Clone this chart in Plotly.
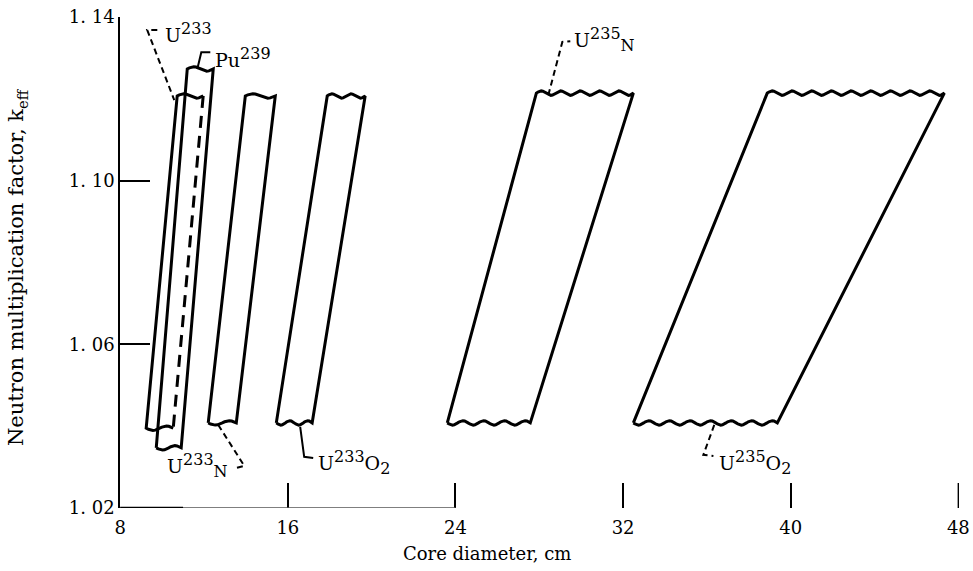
import numpy as np
import plotly.graph_objects as go

# ---------------- data ----------------
band_names = ["U233", "Pu239", "U233N", "U233O2", "U235N", "U235O2"]
k_low = [1.0395, 1.0347, 1.0408, 1.0408, 1.0408, 1.0408]
k_high = [1.1207, 1.1273, 1.1207, 1.1207, 1.1214, 1.1214]
d_low_left = [9.24, 9.72, 12.20, 15.45, 23.61, 32.49]
d_low_right = [10.53, 10.91, 13.54, 17.16, 27.57, 39.36]
d_high_left = [10.72, 11.20, 13.97, 17.88, 27.86, 38.88]
d_high_right = [11.96, 12.44, 15.40, 19.69, 32.49, 47.33]

SUP = '<sup><span style="font-size:16px">{}</span></sup>'
SUB = '<sub><span style="font-size:16px">{}</span></sub>'
label_texts = ["U" + SUP.format("233"), "Pu" + SUP.format("239"),
               "U" + SUP.format("233") + SUB.format("N"),
               "U" + SUP.format("233") + "O" + SUB.format("2"),
               "U" + SUP.format("235") + SUB.format("N"),
               "U" + SUP.format("235") + "O" + SUB.format("2")]
label_x = [10.05, 12.44, 10.15, 17.36, 29.58, 36.5]
label_y = [1.1363, 1.1300, 1.0303, 1.0310, 1.1344, 1.0312]

# leader lines (polyline vertices, data coords)
leader_x = [[9.77, 9.29, 10.58], [12.30, 11.87, 11.68], [12.68, 13.92, 13.54],
            [16.59, 16.78, 17.21], [28.43, 29.10, 29.48], [36.35, 35.83, 36.31]]
leader_y = [[1.1368, 1.1368, 1.1197], [1.1314, 1.1314, 1.1273], [1.0403, 1.0303, 1.0298],
            [1.0398, 1.0325, 1.0322], [1.1209, 1.1339, 1.1341], [1.0403, 1.0330, 1.0327]]
leader_dash = ["dash", "solid", "dash", "solid", "dash", "dash"]

x_ticks = [8, 16, 24, 32, 40, 48]
x_ticktext = ["8", "16", "24", "32", "40", "48"]
y_ticks = [1.02, 1.06, 1.10, 1.14]
y_ticktext = ["1. 02", "1. 06", "1. 10", "1. 14"]

# ---------------- style ----------------
FONT = "DejaVu Serif"
LW = 3
PX_PER_X = 838 / 40.0
PX_PER_Y = 491 / 0.12
WAVE_PERIOD_PX = 20
WAVE_AMP_PX = 2.2
XTICK_LEN_PX = 25


def wavy(x0, y0, x1, y1):
    """Break-mark style (wavy) edge between two corners."""
    length_px = abs(x1 - x0) * PX_PER_X
    n = max(1, int(round(length_px / WAVE_PERIOD_PX)))
    t = np.linspace(0, 1, 12 * n + 1)
    xs = x0 + (x1 - x0) * t
    ys = y0 + (y1 - y0) * t + (WAVE_AMP_PX / PX_PER_Y) * np.sin(2 * np.pi * n * t)
    return list(xs), list(ys)


fig = go.Figure()

for i, name in enumerate(band_names):
    bl = (d_low_left[i], k_low[i])
    br = (d_low_right[i], k_low[i])
    tl = (d_high_left[i], k_high[i])
    tr = (d_high_right[i], k_high[i])
    tx, ty = wavy(tl[0], tl[1], tr[0], tr[1])
    bx, by = wavy(br[0], br[1], bl[0], bl[1])
    if name == "U233":
        # right edge lies inside the Pu239 band -> drawn dashed
        xs = bx + tx
        ys = by + ty
        fig.add_trace(go.Scatter(x=xs, y=ys, mode="lines", line=dict(color="black", width=LW),
                                 hoverinfo="skip", showlegend=False, name=name))
        fig.add_trace(go.Scatter(x=[tr[0], br[0]], y=[tr[1], br[1]], mode="lines",
                                 line=dict(color="black", width=LW, dash="12px,8px"),
                                 hoverinfo="skip", showlegend=False))
    else:
        xs = [bl[0]] + tx + bx
        ys = [bl[1]] + ty + by
        fig.add_trace(go.Scatter(x=xs, y=ys, mode="lines", line=dict(color="black", width=LW),
                                 hoverinfo="skip", showlegend=False, name=name))

for i in range(len(band_names)):
    fig.add_trace(go.Scatter(x=leader_x[i], y=leader_y[i], mode="lines",
                             line=dict(color="black", width=2,
                                       dash="6px,4px" if leader_dash[i] == "dash" else "solid"),
                             hoverinfo="skip", showlegend=False))
    fig.add_annotation(x=label_x[i], y=label_y[i], xref="x", yref="y", text=label_texts[i],
                       showarrow=False, xanchor="left", yanchor="middle",
                       font=dict(family=FONT, size=19, color="black"))

# baseline (only partly visible in the reference)
fig.add_shape(type="line", x0=8, x1=24, y0=1.02, y1=1.02, xref="x", yref="y",
              line=dict(color="#555", width=1.5))
fig.add_shape(type="line", x0=8, x1=11, y0=1.02, y1=1.02, xref="x", yref="y",
              line=dict(color="black", width=2.5))
# last tick mark (plotly drops the one at the plot edge)
fig.add_shape(type="line", x0=x_ticks[-1], x1=x_ticks[-1], y0=0, y1=XTICK_LEN_PX / 491,
              xref="x", yref="paper", line=dict(color="black", width=1.5))

fig.add_annotation(xref="paper", yref="paper", x=-0.122, y=0.49, textangle=-90,
                   xanchor="center", yanchor="middle",
                   text="Neutron multiplication factor, k<sub>eff</sub>", showarrow=False,
                   font=dict(family=FONT, size=21, color="black"))
fig.add_annotation(xref="paper", yref="paper", x=0.438, y=-0.092,
                   xanchor="center", yanchor="middle",
                   text="Core diameter, cm", showarrow=False,
                   font=dict(family=FONT, size=18, color="black"))

fig.update_layout(
    width=973, height=571,
    margin=dict(l=120, r=14, t=17, b=63, autoexpand=False),
    paper_bgcolor="white", plot_bgcolor="white",
    showlegend=False,
    xaxis=dict(range=[7.99, 48.03], showgrid=False, zeroline=False, showline=False,
               automargin=False,
               ticks="inside", ticklen=XTICK_LEN_PX, tickwidth=1.5, tickcolor="black",
               tickvals=x_ticks, ticktext=x_ticktext, ticklabelstandoff=7,
               tickfont=dict(family=FONT, size=18, color="black")),
    yaxis=dict(range=[1.02, 1.14], showgrid=False, zeroline=False, showline=True,
               automargin=False,
               linecolor="black", linewidth=1.5,
               ticks="inside", ticklen=30, tickwidth=1.5, tickcolor="black",
               tickvals=y_ticks, ticktext=y_ticktext,
               tickfont=dict(family=FONT, size=18, color="black")),
)

fig.write_html("out.html", config={"displayModeBar": False},
               post_script="document.body.style.margin='0px';")
